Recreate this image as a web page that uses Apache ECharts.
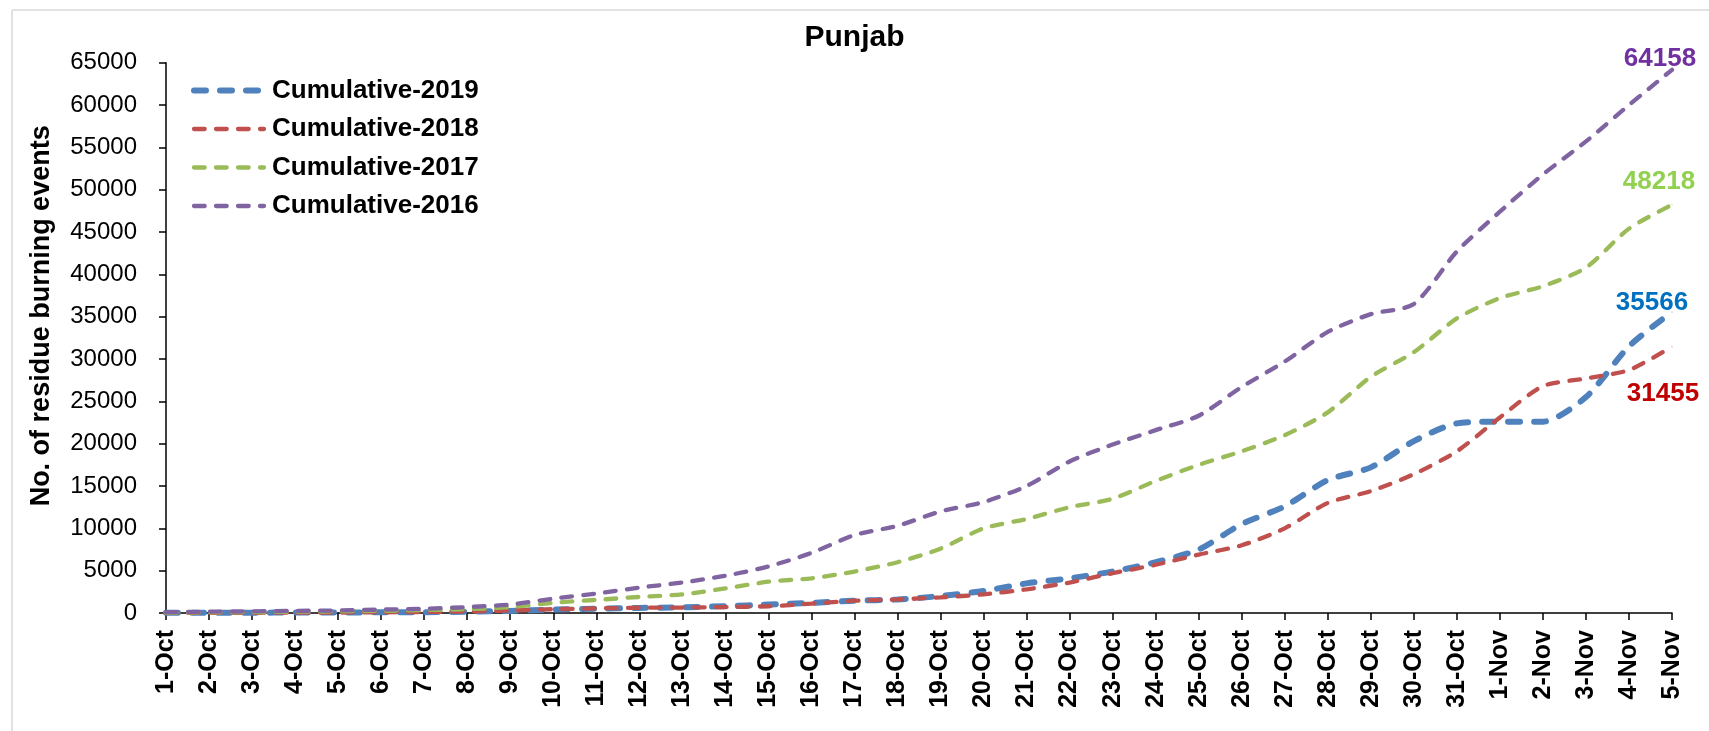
<!DOCTYPE html>
<html>
<head>
<meta charset="utf-8">
<script src="https://cdn.jsdelivr.net/npm/echarts@6/dist/echarts.min.js"></script>
<style>
html,body{margin:0;padding:0;background:#fff;}
#chart{width:1709px;height:731px;}
</style>
</head>
<body>
<div id="chart"></div>
<script>
var categories = ['1-Oct','2-Oct','3-Oct','4-Oct','5-Oct','6-Oct','7-Oct','8-Oct','9-Oct','10-Oct',
  '11-Oct','12-Oct','13-Oct','14-Oct','15-Oct','16-Oct','17-Oct','18-Oct','19-Oct','20-Oct',
  '21-Oct','22-Oct','23-Oct','24-Oct','25-Oct','26-Oct','27-Oct','28-Oct','29-Oct','30-Oct',
  '31-Oct','1-Nov','2-Nov','3-Nov','4-Nov','5-Nov'];

var cum2019 = [20,30,40,50,60,80,100,150,250,400,500,600,670,800,1000,1200,1450,1600,2000,2600,
  3500,4100,4900,6000,7500,10500,12600,15700,17200,20300,22400,22600,22600,25500,31500,35566];
var cum2018 = [10,20,30,40,60,80,120,180,300,450,550,620,650,700,800,1100,1450,1600,1850,2200,
  2800,3600,4700,5700,6900,8000,10000,13000,14400,16400,19100,23100,26800,27700,28700,31455];
var cum2017 = [50,80,100,150,200,250,350,450,700,1200,1550,1900,2200,2900,3700,4100,4900,6000,7600,10000,
  11100,12500,13500,15600,17500,19100,21000,23700,27900,30800,34800,37200,38600,40800,45400,48218];
var cum2016 = [100,150,200,250,300,400,500,700,1000,1700,2300,3000,3600,4400,5500,7100,9200,10300,12000,13100,
  15000,17900,19900,21600,23300,26700,29700,33200,35300,36500,42700,47400,51800,55700,60000,64158];

var yTicks = {min: 0, max: 65000, interval: 5000};

var FONT = '"Liberation Sans", Arial, sans-serif';

function withEndLabel(arr, color, offset) {
  var last = arr.length - 1;
  return arr.map(function (v, i) {
    if (i !== last) return v;
    return {
      value: v,
      symbol: 'circle',
      symbolSize: 1,
      label: {
        show: true,
        position: 'inside',
        offset: offset,
        color: color,
        fontSize: 26,
        fontWeight: 'bold',
        fontFamily: FONT,
        formatter: '{c}'
      }
    };
  });
}

function mkSeries(name, arr, color, width, dash, labelColor, offset) {
  return {
    name: name,
    type: 'line',
    data: withEndLabel(arr, labelColor, offset),
    symbol: 'none',
    smooth: 0.25,
    animation: false,
    lineStyle: {color: color, width: width, type: dash, cap: 'round'},
    itemStyle: {color: color}
  };
}

function legendItem(name, color, width, dash) {
  return {
    name: name,
    itemStyle: {opacity: 0},
    lineStyle: {color: color, width: width, type: dash, cap: 'round', opacity: 1}
  };
}

var chart = echarts.init(document.getElementById('chart'), null, {renderer: 'canvas'});
chart.setOption({
  backgroundColor: '#fff',
  animation: false,
  title: {
    text: 'Punjab',
    left: 'center',
    top: 18,
    textStyle: {fontFamily: FONT, fontSize: 30, fontWeight: 'bold', color: '#000'}
  },
  legend: {
    orient: 'vertical',
    left: 186,
    top: 71,
    itemWidth: 70,
    itemHeight: 14,
    itemGap: 9.5,
    itemStyle: {opacity: 0},
    textStyle: {fontFamily: FONT, fontSize: 26, fontWeight: 'bold', color: '#000', lineHeight: 29, padding: [0, 0, 0, 3]},
    data: [
      legendItem('Cumulative-2019', '#4F81BD', 6, [12, 14]),
      legendItem('Cumulative-2018', '#C0504D', 4.3, [10.7, 11.3]),
      legendItem('Cumulative-2017', '#9BBB59', 4.3, [10.7, 11.3]),
      legendItem('Cumulative-2016', '#8064A2', 4.3, [10.7, 11.3])
    ]
  },
  graphic: [
    {type: 'line', shape: {x1: 12, y1: 10, x2: 1709, y2: 10}, style: {stroke: '#d9d9d9', lineWidth: 1.5}},
    {type: 'line', shape: {x1: 12, y1: 10, x2: 12, y2: 731}, style: {stroke: '#d9d9d9', lineWidth: 1.5}}
  ],
  grid: {left: 166, right: 37, top: 62.7, bottom: 118, containLabel: false, outerBoundsMode: 'none'},
  xAxis: {
    type: 'category',
    data: categories,
    boundaryGap: false,
    axisLine: {lineStyle: {color: '#000', width: 1.5}},
    axisTick: {show: true, inside: false, length: 7, interval: 0, lineStyle: {color: '#000', width: 1.5}},
    axisLabel: {interval: 0, rotate: 90, margin: 17, fontFamily: FONT, fontSize: 25, fontWeight: 'bold', color: '#000'},
    splitLine: {show: false}
  },
  yAxis: {
    type: 'value',
    min: yTicks.min,
    max: yTicks.max,
    interval: yTicks.interval,
    name: 'No. of residue burning events',
    nameLocation: 'middle',
    nameGap: 111,
    nameTextStyle: {fontFamily: FONT, fontSize: 27, fontWeight: 'bold', color: '#000', padding: [0, 0, 0, 44]},
    axisLine: {show: true, lineStyle: {color: '#000', width: 1.5}},
    axisTick: {show: true, inside: false, length: 7, lineStyle: {color: '#000', width: 1.5}},
    axisLabel: {
      margin: 29, fontFamily: FONT, fontSize: 24, color: '#000',
      formatter: function (v) { return String(v); }
    },
    splitLine: {show: false}
  },
  series: [
    mkSeries('Cumulative-2019', cum2019, '#4F81BD', 6, [12, 14], '#0070C0', [-20, -9]),
    mkSeries('Cumulative-2018', cum2018, '#C0504D', 4.3, [10.7, 11.3], '#C00000', [-9, 47]),
    mkSeries('Cumulative-2017', cum2017, '#9BBB59', 4.3, [10.7, 11.3], '#92D050', [-13, -23]),
    mkSeries('Cumulative-2016', cum2016, '#8064A2', 4.3, [10.7, 11.3], '#7030A0', [-12, -11])
  ]
});
</script>
</body>
</html>
